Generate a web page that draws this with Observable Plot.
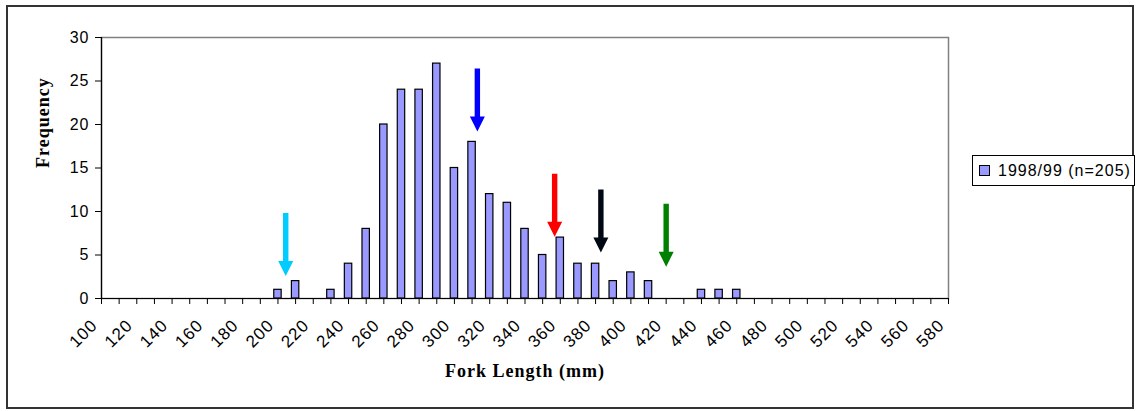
<!DOCTYPE html>
<html>
<head>
<meta charset="utf-8">
<script src="https://cdn.jsdelivr.net/npm/d3@7"></script>
<script src="https://cdn.jsdelivr.net/npm/@observablehq/plot@0.6"></script>
<style>
  html, body { margin: 0; padding: 0; background: #fff; }
  #wrap { position: relative; width: 1138px; height: 411px; }
  #wrap svg { position: absolute; left: 0; top: 0; }
  #border { position: absolute; left: 6px; top: 5px; width: 1128px; height: 404px; border: 2px solid #333; box-sizing: border-box; pointer-events: none; }
  #legend { position: absolute; left: 972px; top: 155px; width: 163px; height: 31px; border: 1px solid #000; box-sizing: border-box; background: #fff;
            font-family: "Liberation Sans", Arial, sans-serif; font-size: 16px; letter-spacing: 1px; display: flex; align-items: center; }
  #legend .sw { width: 9px; height: 9px; background: #9999ff; border: 1px solid #000; margin-left: 6px; margin-right: 8px; }
</style>
</head>
<body>
<div id="wrap"></div>
<script>
// ---- data ----
const lengths = [200, 210, 230, 240, 250, 260, 270, 280, 290, 300, 310, 320, 330, 340, 350, 360, 370, 380, 390, 400, 410, 440, 450, 460];
const counts  = [1, 2, 1, 4, 8, 20, 24, 24, 27, 15, 18, 12, 11, 8, 5, 7, 4, 4, 2, 3, 2, 1, 1, 1];
const seriesName = "1998/99 (n=205)";

const arrowX     = [204.4, 313, 356.8, 383, 420];
const arrowTip   = [2.6, 19.2, 7.1, 5.3, 3.65];
const arrowColor = ["#00ccff", "#0000ff", "#ff0000", "#000814", "#008000"];

const xTicks = [100, 110, 120, 130, 140, 150, 160, 170, 180, 190, 200, 210, 220, 230, 240, 250, 260, 270, 280, 290, 300, 310, 320, 330, 340, 350, 360, 370, 380, 390, 400, 410, 420, 430, 440, 450, 460, 470, 480, 490, 500, 510, 520, 530, 540, 550, 560, 570, 580];
const xTickLabels = ["100", "120", "140", "160", "180", "200", "220", "240", "260", "280", "300", "320", "340", "360", "380", "400", "420", "440", "460", "480", "500", "520", "540", "560", "580"];
const yTicks = [0, 5, 10, 15, 20, 25, 30];
const xTitle = "Fork Length (mm)";
const yTitle = "Frequency";

// ---- tables ----
const bars = lengths.map((l, i) => ({length: l, count: counts[i]}));
const arrows = arrowX.map((x, i) => ({x, tip: arrowTip[i], color: arrowColor[i]}));
const labelTicks = xTickLabels.map(Number);

// arrow glyph (shaft + head), tip at the anchor point
const arrowGlyph = {
  draw(ctx) {
    ctx.moveTo(0, 0);
    ctx.lineTo(-7.5, -15);
    ctx.lineTo(-2.7, -15);
    ctx.lineTo(-2.7, -63);
    ctx.lineTo(2.7, -63);
    ctx.lineTo(2.7, -15);
    ctx.lineTo(7.5, -15);
    ctx.closePath();
  }
};

const halfBar = 2.1;

const chart = Plot.plot({
  width: 1138,
  height: 411,
  marginLeft: 101,
  marginRight: 190,
  marginTop: 37,
  marginBottom: 113,
  style: {fontFamily: "'Liberation Sans', Arial, sans-serif", fontSize: "16px", color: "#000", background: "transparent", letterSpacing: "1px"},
  x: {type: "linear", domain: [100, 580], axis: null},
  y: {domain: [0, 30], axis: null},
  marks: [
    Plot.frame({stroke: "#808080", strokeWidth: 1.5}),
    Plot.rectY(bars, {x1: d => d.length - halfBar, x2: d => d.length + halfBar, y: "count", fill: "#9999ff", stroke: "#000", strokeWidth: 1.2}),
    Plot.ruleY([0], {stroke: "#000", strokeWidth: 1.2}),
    Plot.ruleX([100], {stroke: "#000", strokeWidth: 1.2}),
    Plot.axisY({ticks: yTicks, tickSize: 6, tickPadding: 6, label: null, stroke: "#000", fontSize: 16}),
    Plot.axisX({ticks: xTicks, tickSize: 6, tickFormat: () => "", label: null, stroke: "#000"}),
    Plot.axisX({ticks: labelTicks, tickSize: 0, tickPadding: 24, tickRotate: -45, label: null, dx: -7, fontSize: 17, tickFormat: d => String(d)}),
    Plot.dot(arrows, {x: "x", y: "tip", symbol: arrowGlyph, fill: "color", stroke: null, r: 5}),
    Plot.text([yTitle], {frameAnchor: "left", dx: -58, rotate: -90, fontFamily: "'Liberation Serif', 'Times New Roman', serif", fontWeight: "bold", fontSize: 18, letterSpacing: 0}),
    Plot.text([xTitle], {frameAnchor: "bottom", dy: 78, fontFamily: "'Liberation Serif', 'Times New Roman', serif", fontWeight: "bold", fontSize: 18})
  ]
});

const wrap = document.getElementById("wrap");
wrap.appendChild(chart);
const border = document.createElement("div");
border.id = "border";
wrap.appendChild(border);
const legend = document.createElement("div");
legend.id = "legend";
legend.innerHTML = '<div class="sw"></div><span></span>';
legend.querySelector("span").textContent = seriesName;
wrap.appendChild(legend);
</script>
</body>
</html>
